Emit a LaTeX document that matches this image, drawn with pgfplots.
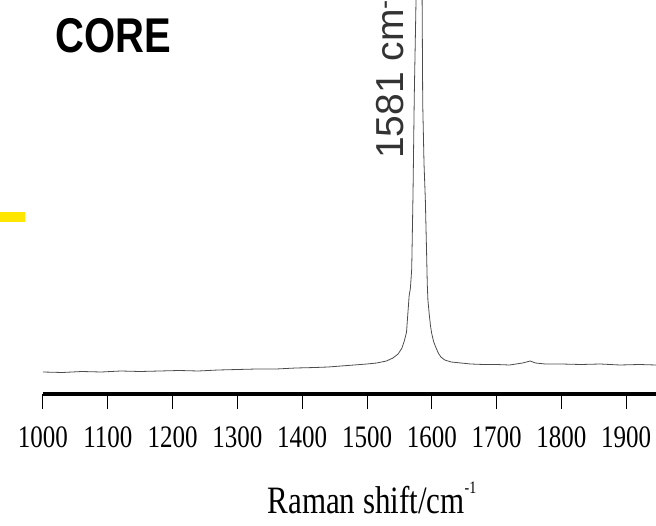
\documentclass[border=0pt]{standalone}
\usepackage{pgfplots}
\pgfplotsset{compat=1.18}
\usepackage{fontspec}
\setmainfont{Liberation Serif}
\newfontfamily\arial{Liberation Sans}
\definecolor{ydash}{HTML}{FFE600}
\begin{document}
\begin{tikzpicture}
\begin{axis}[
  at={(43pt,131pt)}, anchor=south west,
  scale only axis, width=648pt, height=394pt,
  xmin=1000, xmax=2000, ymin=0, ymax=394,
  axis x line*=bottom, axis y line=none,
  x axis line style={line width=3.5pt, black},
  xtick={1000,1100,...,1900},
  tick align=outside, major tick length=15pt,
  xtick style={line width=1pt, black},
  /pgf/number format/assume math mode=true,
  /pgf/number format/1000 sep={},
  xticklabel={\scalebox{1}[1.25]{\pgfmathprintnumber{\tick}}},
  xticklabel style={font=\fontsize{25}{30}\selectfont, anchor=base, yshift=-38pt},
  xlabel={\scalebox{1}[1.25]{Raman shift/cm\raisebox{0.5em}{\fontsize{14}{14}\selectfont -1}}},
  xlabel style={font=\fontsize{31}{36}\selectfont, at={(axis description cs:0.5,0)}, anchor=base, yshift=-119pt, xshift=5pt},
]
\addplot[black!70, line width=0.8pt] coordinates {
(1000,22) (1030,21.5) (1060,22.5) (1090,22) (1120,23) (1150,22.5) (1180,23) (1210,23.5)
(1240,23) (1270,24) (1300,24.5) (1330,25) (1360,25) (1390,26) (1420,26.5) (1440,27)
(1460,28) (1480,29) (1500,30) (1515,31) (1530,33) (1540,36) (1548,40) (1554,46)
(1558,54) (1561,62) (1563,80) (1565,98) (1567,106) (1569,125) (1571,200) (1573,300)
(1575,370) (1578,480) (1581,600) (1584,480) (1585,400) (1586,290) (1588,230) (1590,195)
(1592,140) (1593,110) (1594,94) (1596,80) (1598,68) (1600,60) (1603,52) (1606,47)
(1610,41) (1614,37) (1620,34) (1630,32) (1645,31) (1660,30) (1680,29.5) (1700,29.5)
(1720,29) (1740,31) (1752,33) (1760,31) (1775,30) (1800,30) (1830,29.5) (1860,30)
(1890,29) (1920,29.5) (1946,29) (1970,29) (2000,29)
};
\end{axis}
\fill[ydash] (-5pt,303pt) rectangle (25pt,313pt);
\node[anchor=base west, inner sep=0pt] at (55pt,472pt) {\arial\bfseries\fontsize{40}{48}\selectfont\scalebox{1}[1.22]{CORE}};
\node[anchor=base west, inner sep=0pt, rotate=90, text=black!80] at (403pt,366pt) {\arial\fontsize{39}{46}\selectfont 1581 cm\textsuperscript{-1}};
\pgfresetboundingbox
\path[use as bounding box] (0pt,0pt) rectangle (656pt,525pt);
\end{tikzpicture}
\end{document}
